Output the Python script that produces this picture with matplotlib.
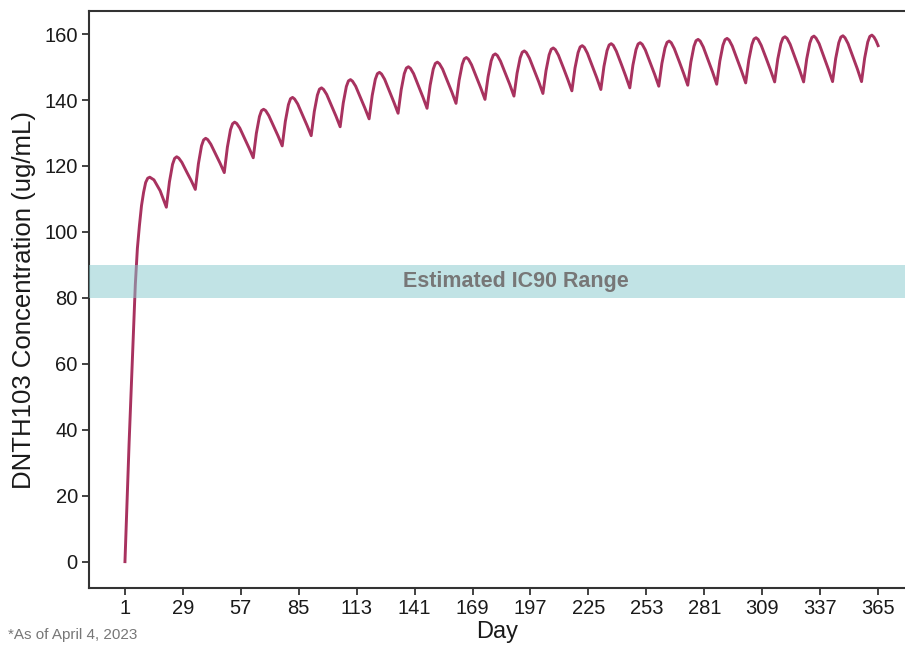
import matplotlib
matplotlib.use("Agg")
import matplotlib.pyplot as plt

plt.rcParams['font.family'] = ['Liberation Sans', 'DejaVu Sans']

# Simulated concentration curve (day, ug/mL)
days = [1, 2, 3, 4, 5, 6, 7, 8, 9, 10, 11, 12, 13, 15, 18,
        21, 22.5, 24, 25, 26, 27, 28.5, 31, 33,
        35, 36.5, 38, 39, 40, 41, 42.5, 45, 47,
        49, 50.5, 52, 53, 54, 55, 56.5, 59, 61,
        63, 64.5, 66, 67, 68, 69, 70.5, 73, 75,
        77, 78.5, 80, 81, 82, 83, 84.5, 87, 89,
        91, 92.5, 94, 95, 96, 97, 98.5, 101, 103,
        105, 106.5, 108, 109, 110, 111, 112.5, 115, 117,
        119, 120.5, 122, 123, 124, 125, 126.5, 129, 131,
        133, 134.5, 136, 137, 138, 139, 140.5, 143, 145,
        147, 148.5, 150, 151, 152, 153, 154.5, 157, 159,
        161, 162.5, 164, 165, 166, 167, 168.5, 171, 173,
        175, 176.5, 178, 179, 180, 181, 182.5, 185, 187,
        189, 190.5, 192, 193, 194, 195, 196.5, 199, 201,
        203, 204.5, 206, 207, 208, 209, 210.5, 213, 215,
        217, 218.5, 220, 221, 222, 223, 224.5, 227, 229,
        231, 232.5, 234, 235, 236, 237, 238.5, 241, 243,
        245, 246.5, 248, 249, 250, 251, 252.5, 255, 257,
        259, 260.5, 262, 263, 264, 265, 266.5, 269, 271,
        273, 274.5, 276, 277, 278, 279, 280.5, 283, 285,
        287, 288.5, 290, 291, 292, 293, 294.5, 297, 299,
        301, 302.5, 304, 305, 306, 307, 308.5, 311, 313,
        315, 316.5, 318, 319, 320, 321, 322.5, 325, 327,
        329, 330.5, 332, 333, 334, 335, 336.5, 339, 341,
        343, 344.5, 346, 347, 348, 349, 350.5, 353, 355,
        357, 358.5, 360, 361, 362, 363, 364, 365]

conc = [0, 18, 36, 52, 68, 84, 95, 102, 108, 112, 115, 116.3, 116.6, 115.8, 112.5,
        107.5, 115.2, 120.5, 122.3, 122.8, 122.4, 121.1, 118.0, 115.6,
        112.9, 120.7, 126.1, 127.9, 128.4, 128.0, 126.6, 123.4, 120.8,
        118.0, 125.7, 131.0, 132.8, 133.3, 132.9, 131.5, 128.1, 125.4,
        122.5, 129.9, 135.0, 136.8, 137.2, 136.8, 135.3, 131.9, 129.1,
        126.1, 133.5, 138.6, 140.4, 140.8, 140.3, 138.8, 135.2, 132.3,
        129.2, 136.5, 141.5, 143.3, 143.7, 143.2, 141.7, 138.0, 135.1,
        131.9, 139.1, 144.1, 145.8, 146.2, 145.7, 144.2, 140.5, 137.5,
        134.3, 141.4, 146.3, 148.0, 148.4, 147.9, 146.3, 142.4, 139.3,
        136.0, 143.1, 148.0, 149.7, 150.1, 149.6, 148.0, 144.1, 140.9,
        137.5, 144.5, 149.4, 151.1, 151.5, 151.0, 149.4, 145.5, 142.4,
        139.0, 146.0, 150.8, 152.5, 152.9, 152.4, 150.7, 146.8, 143.6,
        140.2, 147.1, 151.9, 153.6, 154.0, 153.5, 151.8, 147.9, 144.7,
        141.2, 148.1, 152.8, 154.5, 154.9, 154.4, 152.7, 148.7, 145.5,
        142.0, 148.9, 153.7, 155.4, 155.8, 155.3, 153.6, 149.6, 146.3,
        142.8, 149.7, 154.4, 156.1, 156.5, 156.0, 154.2, 150.1, 146.8,
        143.2, 150.2, 155.0, 156.7, 157.1, 156.6, 154.8, 150.7, 147.3,
        143.7, 150.6, 155.3, 157.0, 157.4, 156.9, 155.2, 151.1, 147.8,
        144.2, 151.1, 155.8, 157.5, 157.9, 157.4, 155.6, 151.5, 148.1,
        144.5, 151.5, 156.3, 158.0, 158.4, 157.9, 156.1, 151.9, 148.5,
        144.8, 151.8, 156.6, 158.3, 158.7, 158.2, 156.4, 152.2, 148.8,
        145.2, 152.1, 156.8, 158.5, 158.9, 158.4, 156.6, 152.5, 149.1,
        145.5, 152.4, 157.1, 158.8, 159.2, 158.7, 156.9, 152.6, 149.2,
        145.5, 152.5, 157.3, 159.0, 159.4, 158.8, 157.1, 152.8, 149.3,
        145.6, 152.6, 157.4, 159.1, 159.5, 158.9, 157.1, 152.8, 149.4,
        145.6, 152.7, 157.6, 159.3, 159.7, 159.1, 158.0, 156.5]

ic90_low, ic90_high = 80, 90
x_ticks = [1, 29, 57, 85, 113, 141, 169, 197, 225, 253, 281, 309, 337, 365]
y_ticks = [0, 20, 40, 60, 80, 100, 120, 140, 160]

fig = plt.figure(figsize=(9.05, 6.53), dpi=100)
ax = fig.add_axes([0.0983, 0.0995, 0.9017, 0.8836])

ax.plot(days, conc, color='#A8325F', linewidth=2.1, solid_joinstyle='round', zorder=2)
ax.axhspan(ic90_low, ic90_high, color='#85C9CD', alpha=0.5, linewidth=0, zorder=3)
ax.text(190, 85, "Estimated IC90 Range", ha='center', va='center',
        fontsize=15.5, fontweight='bold', color='#777777', zorder=4)

ax.set_xlim(-16.4, 378)
ax.set_ylim(-8, 167)
ax.set_xticks(x_ticks)
ax.set_yticks(y_ticks)

for side in ['left', 'bottom', 'top']:
    ax.spines[side].set_color('#333333')
    ax.spines[side].set_linewidth(1.5)
ax.spines['right'].set_visible(False)

ax.tick_params(axis='both', direction='out', length=5, width=1.3, color='#333333',
               labelsize=14.5, labelcolor='#1a1a1a', pad=3)

ax.set_xlabel("Day", fontsize=17, color='#1a1a1a', labelpad=2)
ax.set_ylabel("DNTH103 Concentration (ug/mL)", fontsize=18.5, color='#1a1a1a', labelpad=6)

fig.text(0.009, 0.022, "*As of April 4, 2023", fontsize=11, color='#777777')

fig.savefig("out.png", dpi=100)
